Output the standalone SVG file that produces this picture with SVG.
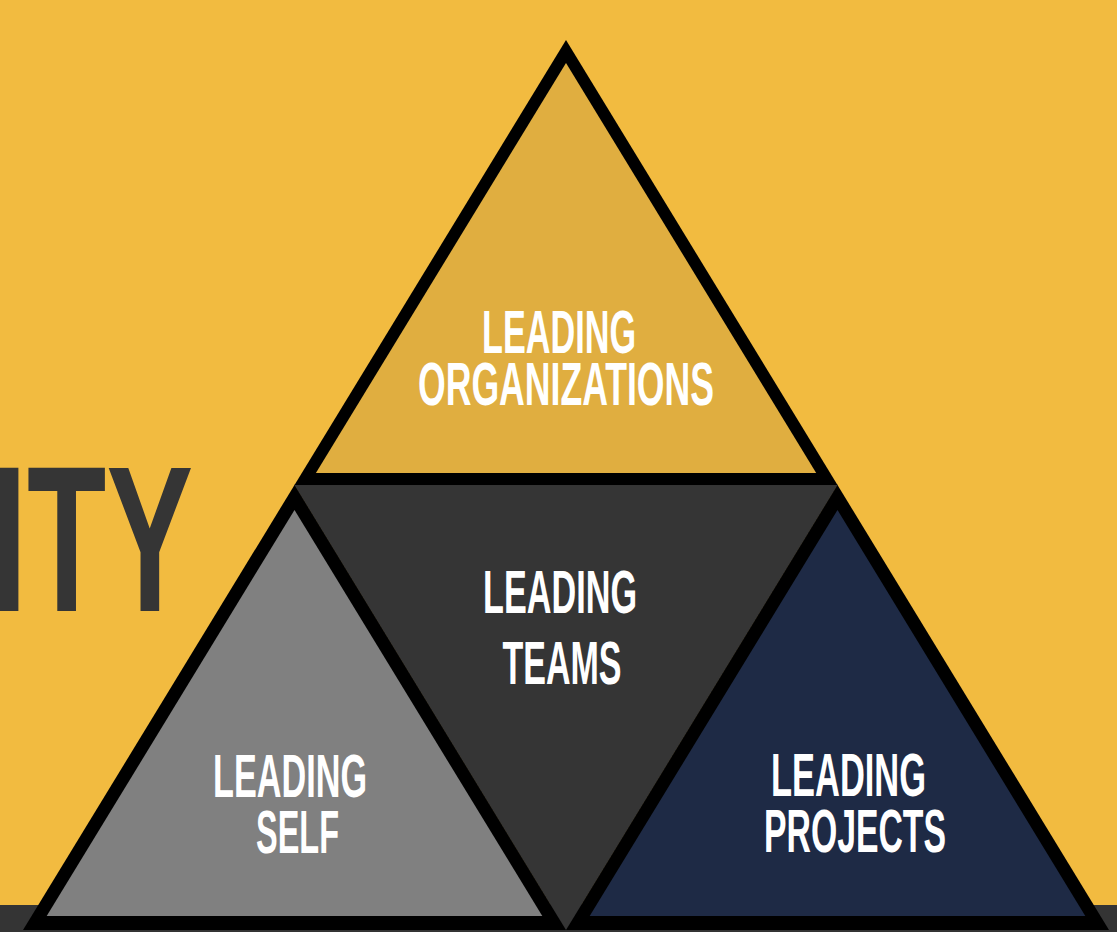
<svg xmlns="http://www.w3.org/2000/svg" width="1117" height="932" viewBox="0 0 1117 932">
  <style>
    .border { fill: #000000; }
    .lbl { font-family: "Liberation Sans Narrow", "Liberation Sans", "DejaVu Sans Condensed", sans-serif; font-weight: bold; font-size: 62px; fill: #FFFFFF; text-anchor: middle; }
    .big { font-family: "Liberation Sans Narrow", "Liberation Sans", "DejaVu Sans Condensed", sans-serif; font-weight: bold; font-size: 207px; fill: #353535; }
  </style>
  <rect x="0" y="0" width="1117" height="932" fill="#F2BB40"/>
  <rect x="0" y="905" width="1117" height="27" fill="#343434"/>
  <g id="title-fragment">
    <text class="big" x="-9" y="611" textLength="202" lengthAdjust="spacingAndGlyphs">ITY</text>
  </g>
  <g id="connectors"></g>
  <g id="node-leading-teams">
    <polygon points="294.5,485 837.5,485 566,930" fill="#353535" stroke="#353535" stroke-width="1"/>
    <text class="lbl"><tspan x="560" y="613" textLength="154" lengthAdjust="spacingAndGlyphs">LEADING</tspan><tspan x="562" y="684" textLength="119" lengthAdjust="spacingAndGlyphs">TEAMS</tspan></text>
  </g>
  <g id="node-leading-organizations">
    <polygon class="border" points="566,40 294.5,485 837.5,485"/>
    <polygon points="566,63 315.9,473 816.2,473" fill="#E0AE40"/>
    <text class="lbl"><tspan x="559" y="353" textLength="154" lengthAdjust="spacingAndGlyphs">LEADING</tspan><tspan x="566" y="405" textLength="296" lengthAdjust="spacingAndGlyphs">ORGANIZATIONS</tspan></text>
  </g>
  <g id="node-leading-self">
    <polygon class="border" points="294.5,485 23,930 566,930"/>
    <polygon points="294.5,510 46.7,916 542.3,916" fill="#808080"/>
    <text class="lbl"><tspan x="290" y="797" textLength="154" lengthAdjust="spacingAndGlyphs">LEADING</tspan><tspan x="297.5" y="853" textLength="83" lengthAdjust="spacingAndGlyphs">SELF</tspan></text>
  </g>
  <g id="node-leading-projects">
    <polygon class="border" points="837.5,485 566,930 1109,930"/>
    <polygon points="837.5,510 589.7,916 1085.3,916" fill="#1E2A45"/>
    <text class="lbl"><tspan x="848.5" y="796" textLength="155" lengthAdjust="spacingAndGlyphs">LEADING</tspan><tspan x="855" y="852" textLength="182" lengthAdjust="spacingAndGlyphs">PROJECTS</tspan></text>
  </g>
</svg>
